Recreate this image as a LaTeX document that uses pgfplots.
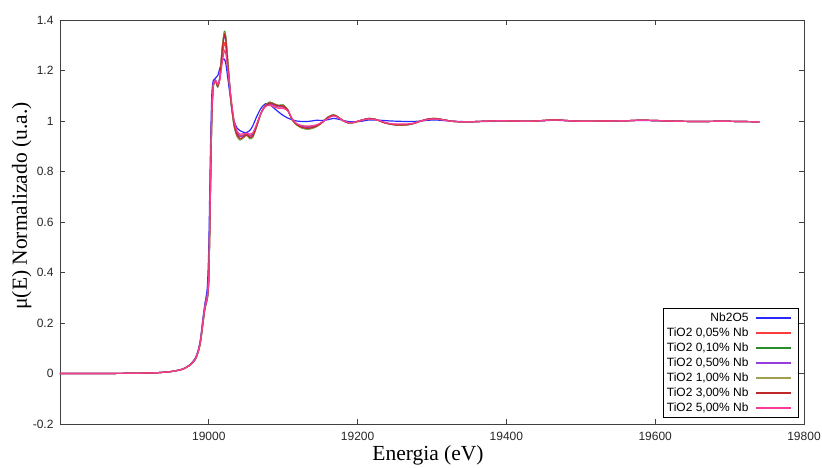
\documentclass[border=0pt]{standalone}
\usepackage{pgfplots}
\pgfplotsset{compat=1.18}
\usepackage{pgfplotstable}
\usepackage{fontspec}
\setmainfont{Liberation Sans}
\newfontfamily\seriffont{Liberation Serif}

\definecolor{cnb}{RGB}{40,40,255}
\definecolor{ca}{RGB}{255,60,60}
\definecolor{cb}{RGB}{40,140,40}
\definecolor{cc}{RGB}{150,60,220}
\definecolor{cd}{RGB}{160,160,80}
\definecolor{ce}{RGB}{190,40,40}
\definecolor{cf}{RGB}{250,60,150}

\pgfplotstableread{
E      nb     t005   t010   t050   t100   t300   t500
18800  0.000  0.000  0.000  0.000  0.000  0.000  0.000
18850  0.000  0.000  0.000  0.000  0.000  0.000  0.000
18900  0.001  0.001  0.001  0.001  0.001  0.001  0.001
18930  0.003  0.003  0.003  0.003  0.003  0.003  0.003
18950  0.008  0.008  0.008  0.008  0.008  0.008  0.008
18965  0.018  0.017  0.017  0.018  0.017  0.017  0.017
18975  0.036  0.034  0.034  0.035  0.034  0.034  0.034
18982  0.062  0.058  0.057  0.060  0.057  0.057  0.058
18986  0.095  0.090  0.088  0.093  0.088  0.089  0.090
18989  0.140  0.130  0.127  0.135  0.128  0.129  0.130
18992  0.215  0.200  0.195  0.210  0.196  0.198  0.200
18995  0.280  0.265  0.260  0.275  0.262  0.263  0.265
18998  0.340  0.300  0.295  0.320  0.297  0.298  0.300
19000  0.500  0.380  0.370  0.420  0.375  0.378  0.385
19002  0.850  0.700  0.680  0.760  0.690  0.695  0.710
19004  1.100  1.020  1.000  1.050  1.010  1.015  1.030
19006  1.160  1.140  1.135  1.145  1.137  1.138  1.140
19009  1.170  1.160  1.158  1.162  1.158  1.159  1.160
19012  1.180  1.140  1.135  1.145  1.137  1.138  1.145
19015  1.210  1.170  1.175  1.175  1.174  1.172  1.165
19018  1.240  1.250  1.290  1.280  1.290  1.280  1.230
19021  1.245  1.310  1.355  1.340  1.350  1.345  1.280
19023  1.225  1.290  1.330  1.315  1.325  1.320  1.265
19026  1.160  1.200  1.220  1.210  1.220  1.210  1.190
19030  1.070  1.085  1.070  1.078  1.072  1.075  1.090
19034  1.000  0.995  0.980  0.990  0.980  0.985  1.000
19038  0.972  0.955  0.940  0.950  0.940  0.945  0.960
19042  0.962  0.943  0.925  0.938  0.927  0.930  0.948
19047  0.955  0.945  0.935  0.942  0.935  0.938  0.950
19051  0.955  0.950  0.945  0.948  0.944  0.945  0.952
19055  0.962  0.943  0.930  0.940  0.932  0.935  0.948
19059  0.980  0.948  0.935  0.945  0.937  0.940  0.952
19064  1.015  0.983  0.975  0.980  0.975  0.977  0.985
19070  1.050  1.030  1.030  1.030  1.030  1.030  1.030
19076  1.068  1.060  1.062  1.060  1.061  1.060  1.057
19082  1.065  1.068  1.075  1.070  1.073  1.072  1.062
19088  1.050  1.060  1.068  1.063  1.067  1.066  1.055
19094  1.035  1.055  1.062  1.058  1.061  1.060  1.050
19100  1.022  1.055  1.064  1.058  1.062  1.060  1.050
19106  1.012  1.042  1.045  1.043  1.045  1.044  1.040
19112  1.005  1.008  1.005  1.007  1.005  1.006  1.010
19118  1.000  0.988  0.985  0.987  0.985  0.986  0.990
19125  0.998  0.980  0.972  0.978  0.973  0.975  0.982
19132  0.998  0.977  0.968  0.975  0.969  0.971  0.980
19138  1.000  0.978  0.970  0.976  0.971  0.973  0.981
19145  1.003  0.983  0.978  0.982  0.979  0.980  0.985
19152  1.002  0.994  0.993  0.994  0.993  0.993  0.995
19160  1.005  1.012  1.015  1.013  1.015  1.014  1.010
19167  1.010  1.021  1.025  1.022  1.024  1.023  1.020
19173  1.008  1.016  1.018  1.017  1.018  1.017  1.015
19180  1.003  1.002  1.002  1.002  1.002  1.002  1.002
19187  0.998  0.993  0.993  0.993  0.993  0.993  0.994
19195  0.997  0.994  0.994  0.994  0.994  0.994  0.995
19205  0.999  1.003  1.003  1.003  1.003  1.003  1.003
19215  1.004  1.009  1.010  1.009  1.010  1.010  1.008
19225  1.004  1.005  1.006  1.005  1.006  1.006  1.005
19235  1.002  0.995  0.994  0.995  0.994  0.994  0.996
19245  1.000  0.988  0.987  0.988  0.987  0.987  0.989
19255  0.999  0.986  0.983  0.985  0.983  0.984  0.988
19265  0.998  0.986  0.984  0.985  0.984  0.985  0.988
19275  0.998  0.990  0.990  0.990  0.990  0.990  0.991
19285  1.000  1.000  1.000  1.000  1.000  1.000  1.000
19295  1.003  1.007  1.008  1.007  1.008  1.008  1.006
19305  1.004  1.009  1.010  1.009  1.010  1.010  1.008
19315  1.002  1.005  1.005  1.005  1.005  1.005  1.004
19330  0.999  0.998  0.998  0.998  0.998  0.998  0.998
19350  0.997  0.997  0.997  0.997  0.997  0.997  0.997
19370  0.998  0.999  0.999  0.999  0.999  0.999  0.999
19390  1.000  1.001  1.001  1.001  1.001  1.001  1.001
19410  1.000  1.000  1.000  1.000  1.000  1.000  1.000
19430  0.999  0.999  0.999  0.999  0.999  0.999  0.999
19450  1.001  1.002  1.002  1.002  1.002  1.002  1.002
19465  1.003  1.005  1.005  1.005  1.005  1.005  1.004
19480  1.001  1.002  1.002  1.002  1.002  1.002  1.002
19500  0.999  0.999  0.999  0.999  0.999  0.999  0.999
19530  1.000  1.000  1.000  1.000  1.000  1.000  1.000
19560  1.001  1.001  1.001  1.001  1.001  1.001  1.001
19580  1.002  1.003  1.003  1.003  1.003  1.003  1.003
19600  1.001  1.002  1.002  1.002  1.002  1.002  1.002
19630  0.999  0.999  0.999  0.999  0.999  0.999  0.999
19660  0.998  0.998  0.998  0.998  0.998  0.998  0.998
19690  0.999  0.999  0.999  0.999  0.999  0.999  0.999
19715  0.998  0.998  0.998  0.998  0.998  0.998  0.998
19740  0.997  0.997  0.997  0.997  0.997  0.997  0.997
}\datatable

\begin{document}
\begin{tikzpicture}
\begin{axis}[
  scale only axis,
  width=744pt, height=404pt,
  xmin=18800, xmax=19800, ymin=-0.2, ymax=1.4,
  xtick={19000,19200,19400,19600,19800},
  ytick={-0.2,0,0.2,0.4,0.6,0.8,1,1.2,1.4},
  scaled x ticks=false, scaled y ticks=false,
  xticklabel style={/pgf/number format/1000 sep={}, yshift=-5pt},
  yticklabel style={xshift=-3pt},
  /pgf/number format/assume math mode=true,
  ticklabel style={font=\fontsize{12}{14}\selectfont, text=black!85},
  tick align=inside,
  major tick length=5pt,
  axis line style={black!75, line width=0.9pt},
  tick style={black!75, line width=0.8pt},
  xlabel={Energia (eV)},
  ylabel={μ(E) Normalizado (u.a.)},
  xlabel style={at={(axis description cs:0.4946,-0.0891)}, anchor=base, font=\seriffont\fontsize{21.5}{24}\selectfont},
  ylabel style={at={(axis description cs:-0.0444,0.5396)}, anchor=base, font=\seriffont\fontsize{21.5}{24}\selectfont},
  legend style={at={(0.9933,0.0149)}, anchor=south east, draw=black, line width=0.6pt,
    font=\fontsize{12}{14}\selectfont, row sep=0pt, inner xsep=3pt, inner ysep=2pt,
    nodes={inner sep=1pt, text height=9.5pt, text depth=3.5pt}},
  legend cell align=right,
  legend plot pos=right,
  legend image code/.code={\path (0pt,0pt) (45pt,0pt); \draw[#1, line width=1.5pt] (6pt,0pt) -- (41pt,0pt);},
  every axis plot/.append style={line width=1.2pt, smooth, tension=0.4},
]
\addplot[cnb] table[x=E, y=nb] {\datatable};
\addlegendentry{Nb2O5}
\addplot[ca] table[x=E, y=t005] {\datatable};
\addlegendentry{TiO2 0,05\% Nb}
\addplot[cb] table[x=E, y=t010] {\datatable};
\addlegendentry{TiO2 0,10\% Nb}
\addplot[cc] table[x=E, y=t050] {\datatable};
\addlegendentry{TiO2 0,50\% Nb}
\addplot[cd] table[x=E, y=t100] {\datatable};
\addlegendentry{TiO2 1,00\% Nb}
\addplot[ce] table[x=E, y=t300] {\datatable};
\addlegendentry{TiO2 3,00\% Nb}
\addplot[cf] table[x=E, y=t500] {\datatable};
\addlegendentry{TiO2 5,00\% Nb}
\end{axis}
\pgfresetboundingbox
\path[use as bounding box] (-60pt,-43pt) rectangle (762pt,424pt);
\end{tikzpicture}
\end{document}
